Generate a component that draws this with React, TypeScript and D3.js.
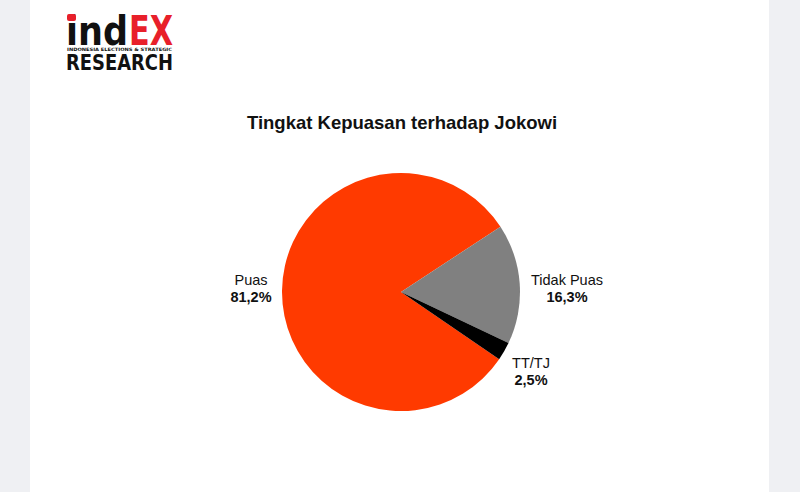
import React from "react";
import * as d3 from "d3";

const categories = ["Puas", "Tidak Puas", "TT/TJ"];
const values = [81.2, 16.3, 2.5];
const valueLabels = ["81,2%", "16,3%", "2,5%"];
const colors = ["#ff3a00", "#808080", "#000000"];
const title = "Tingkat Kepuasan terhadap Jokowi";

const W = 800;
const H = 492;
const cx = 401;
const cy = 292;
const R = 119;

export default function App() {
  const pie = d3
    .pie<number>()
    .sort(null)
    .value((d) => d)
    .startAngle((124.4 * Math.PI) / 180)
    .endAngle((124.4 * Math.PI) / 180 + 2 * Math.PI);
  const arcs = pie(values);
  const arc = d3.arc<d3.PieArcDatum<number>>().innerRadius(0).outerRadius(R);

  const labelPos = [
    { x: 251, y: 285 },
    { x: 567, y: 285 },
    { x: 531, y: 368 },
  ];
  const font = "'Liberation Sans', Arial, sans-serif";

  return (
    <svg
      width={W}
      height={H}
      style={{ position: "fixed", left: 0, top: 0, display: "block" }}
    >
      <rect x={0} y={0} width={W} height={H} fill="#ffffff" />
      <rect x={0} y={0} width={30} height={H} fill="#eff0f3" />
      <rect x={769} y={0} width={31} height={H} fill="#eff0f3" />

      {/* logo */}
      <g fontFamily="'DejaVu Sans', sans-serif" fontWeight="bold">
        <text x={66} y={45} fontSize={40} textLength={62} lengthAdjust="spacingAndGlyphs" fill="#111">
          ind
        </text>
        <rect x={67} y={14} width={9} height={7} rx={2} fill="#e8202a" />
        <text x={129} y={45} fontSize={40} textLength={44} lengthAdjust="spacingAndGlyphs" fill="#e8202a">
          EX
        </text>
        <text x={67} y={51} fontSize={4.5} textLength={105} lengthAdjust="spacingAndGlyphs" fill="#111">
          INDONESIA ELECTIONS &amp; STRATEGIC
        </text>
        <text x={66} y={70} fontSize={21} textLength={107} lengthAdjust="spacingAndGlyphs" fill="#111">
          RESEARCH
        </text>
      </g>

      <text
        x={402}
        y={129}
        textAnchor="middle"
        fontFamily={font}
        fontWeight="bold"
        fontSize={18.5}
        fill="#111"
      >
        {title}
      </text>

      <g transform={`translate(${cx},${cy})`}>
        {arcs.map((a, i) => (
          <path key={categories[i]} d={arc(a) || ""} fill={colors[i]} />
        ))}
      </g>

      {categories.map((c, i) => (
        <g key={c} fontFamily={font} fontSize={14.5} fill="#111" textAnchor="middle">
          <text x={labelPos[i].x} y={labelPos[i].y}>
            {c}
          </text>
          <text x={labelPos[i].x} y={labelPos[i].y + 17} fontWeight="bold">
            {valueLabels[i]}
          </text>
        </g>
      ))}
    </svg>
  );
}
